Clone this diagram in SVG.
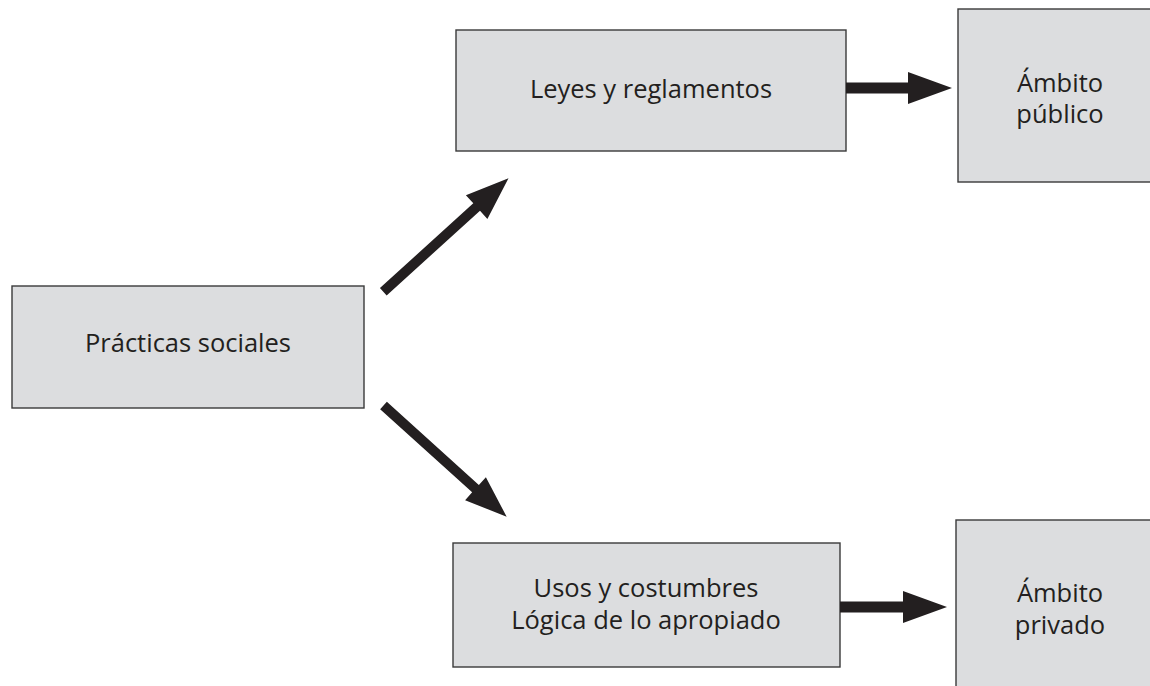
<svg xmlns="http://www.w3.org/2000/svg" width="1150" height="686" viewBox="0 0 1150 686">
<style>
.box{fill:#dcdddf;stroke:#3a3a3a;stroke-width:1.4}
.t{font-family:"Open Sans","Liberation Sans",sans-serif;font-size:25.5px;fill:#231f20;text-anchor:middle}
.arr{fill:#231f20}
</style>
<rect width="1150" height="686" fill="#ffffff"/>
<g id="practicas">
<rect class="box" x="12" y="286" width="352" height="122"/>
<text class="t" x="188" y="352">Prácticas sociales</text>
</g>
<g id="leyes">
<rect class="box" x="456" y="30" width="390" height="121"/>
<text class="t" x="651" y="98">Leyes y reglamentos</text>
</g>
<g id="publico">
<rect class="box" x="958" y="9" width="210" height="173"/>
<text class="t" x="1060" y="92">Ámbito</text>
<text class="t" x="1060" y="123">público</text>
</g>
<g id="usos">
<rect class="box" x="453" y="543" width="387" height="124"/>
<text class="t" x="646" y="597">Usos y costumbres</text>
<text class="t" x="646" y="629">Lógica de lo apropiado</text>
</g>
<g id="privado">
<rect class="box" x="956" y="520" width="210" height="180"/>
<text class="t" x="1060" y="602">Ámbito</text>
<text class="t" x="1060" y="634">privado</text>
</g>
<g id="connectors">
<polygon class="arr" points="846,82.5 908,82.5 908,72 952,88 908,104 908,93.5 846,93.5"/>
<polygon class="arr" points="840,601.5 903,601.5 903,591 947,607 903,623 903,612.5 840,612.5"/>
<polygon class="arr" transform="translate(383.3,291.7) rotate(-42.2)" points="0,-5 126,-5 126,-16 169,0 126,16 126,5 0,5"/>
<polygon class="arr" transform="translate(383.5,405.5) rotate(42.1)" points="0,-5 124,-5 124,-15.5 166,0 124,15.5 124,5 0,5"/>
</g>
</svg>
